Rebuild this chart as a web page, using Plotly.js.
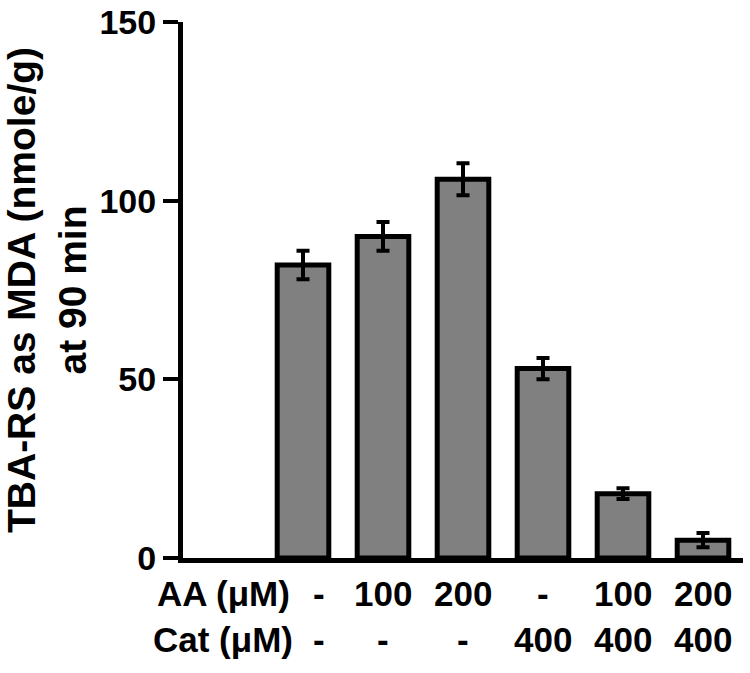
<!DOCTYPE html>
<html>
<head>
<meta charset="utf-8">
<script src="https://cdn.plot.ly/plotly-3.0.1.min.js"></script>
<style>
  html, body { margin: 0; padding: 0; background: #fff; }
  #grafico { width: 750px; height: 673px; }
</style>
</head>
<body>
<div id="grafico"></div>
<script>
// categorias (la primera no lleva barra, solo las etiquetas de fila)
const categorias = [0, 1, 2, 3, 4, 5, 6];
const valores = [null, 82, 90, 106, 53, 18, 5];
const errores = [null, 4, 4, 4.5, 3, 1.5, 2];

// etiquetas bajo el eje
const filaAA = ['AA (\u03bcM)', '-', '100', '200', '-', '100', '200'];
const filaCat = ['Cat (\u03bcM)', '-', '-', '-', '400', '400', '400'];
const ticksY = [0, 50, 100, 150];

const fuente = 'Arial, "Liberation Sans", sans-serif';

function graficar() {
    const barras = {
        x: categorias,
        y: valores,
        type: 'bar',
        width: 0.645,
        marker: {color: '#808080', line: {color: '#000', width: 5}},
        error_y: {type: 'data', array: errores, visible: true, color: '#000', thickness: 4, width: 6.5},
        hoverinfo: 'skip'
    };

    // etiquetas de las dos filas como anotaciones
    const anotaciones = [];
    [[filaAA, -0.0668], [filaCat, -0.1525]].forEach(([fila, yPos]) => {
        fila.forEach((t, i) => {
            anotaciones.push({
                x: categorias[i], y: yPos, xref: 'x', yref: 'paper',
                text: t, showarrow: false, xanchor: 'center', yanchor: 'middle',
                xshift: i === 1 ? 16 : 0,
                font: {family: fuente, size: 35, weight: 'bold', color: '#000'}
            });
        });
    });

    const layout = {
        width: 750,
        height: 673,
        margin: {l: 183, r: 7, t: 22, b: 115},
        paper_bgcolor: '#fff',
        plot_bgcolor: '#fff',
        showlegend: false,
        font: {family: fuente, color: '#000'},
        xaxis: {
            range: [-0.5, 6.5],
            showticklabels: false,
            ticks: '',
            showgrid: false,
            zeroline: false,
            showline: true,
            linecolor: '#000',
            linewidth: 5,
            fixedrange: true
        },
        yaxis: {
            range: [0, 150],
            tickvals: ticksY,
            ticktext: ticksY.map(String),
            ticklabeloverflow: 'allow',
            ticks: 'outside',
            ticklen: 15,
            tickwidth: 4,
            tickcolor: '#000',
            tickfont: {family: fuente, size: 34, weight: 'bold', color: '#000'},
            showgrid: false,
            zeroline: false,
            showline: true,
            linecolor: '#000',
            linewidth: 5,
            title: {
                text: 'TBA-RS as MDA (nmole/g)<br>at 90 min',
                font: {family: fuente, size: 39, weight: 'bold', color: '#000'},
                standoff: 26
            },
            fixedrange: true
        },
        annotations: anotaciones
    };

    Plotly.newPlot('grafico', [barras], layout, {displayModeBar: false, staticPlot: true});
}

window.onload = graficar;
</script>
</body>
</html>
